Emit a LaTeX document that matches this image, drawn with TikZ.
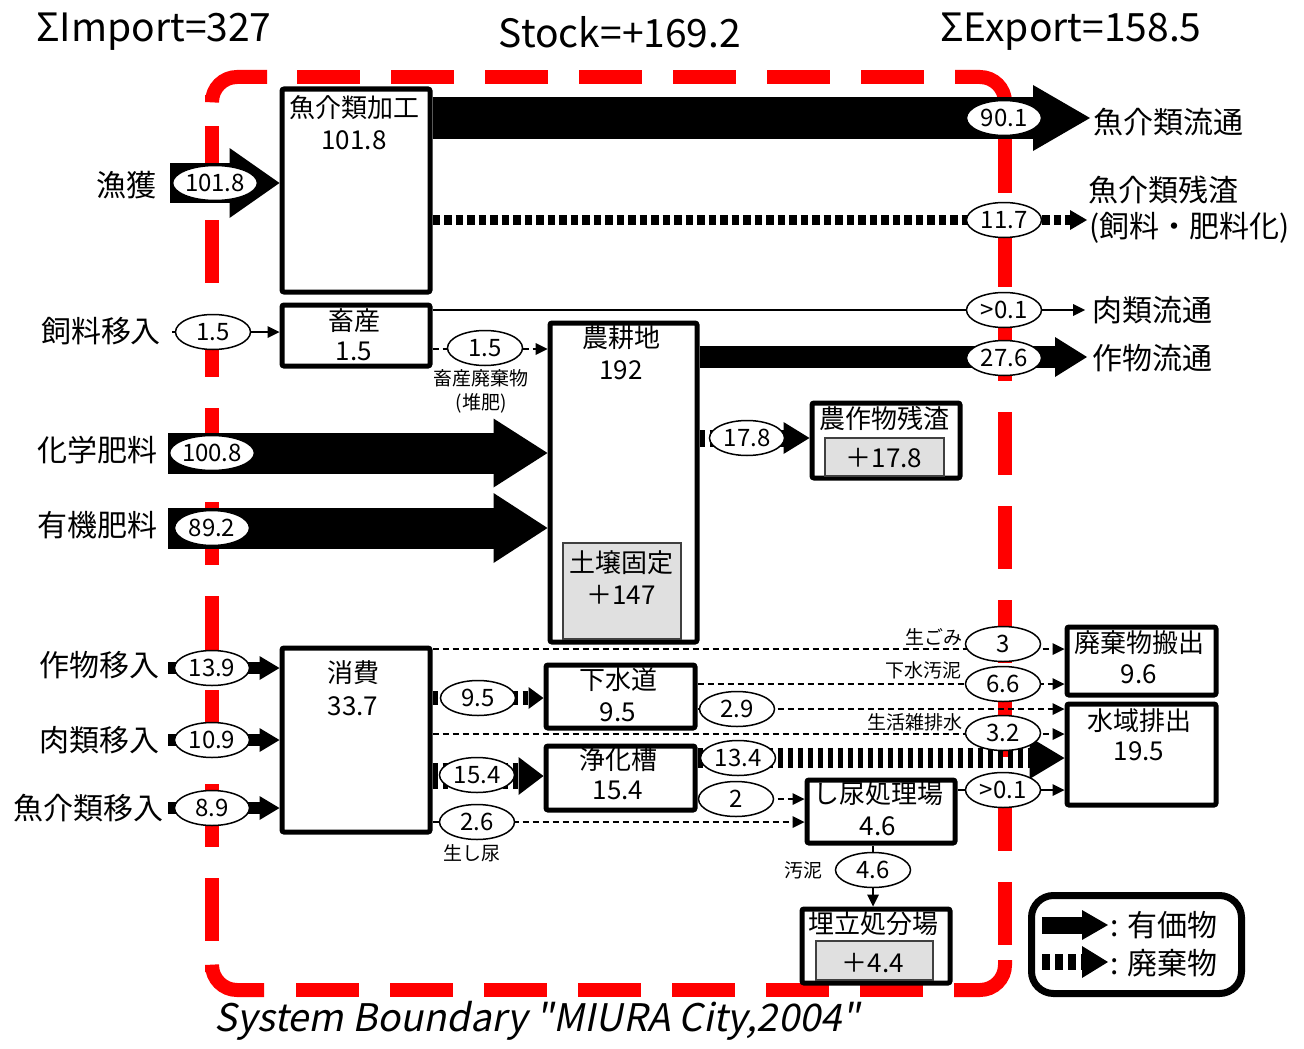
\documentclass[tikz,border=0pt]{standalone}
\usepackage{fontspec}
\setmainfont{Noto Sans CJK JP}
\newfontfamily\slantfont[FakeSlant=0.2]{Noto Sans CJK JP}
\usetikzlibrary{arrows.meta,shapes.geometric}
\definecolor{bred}{RGB}{255,0,0}
\definecolor{soilgray}{RGB}{224,224,224}
\tikzset{
 box/.style={draw, line width=5pt, fill=white, rounded corners=2pt, inner sep=0pt, anchor=north west},
 inbox/.style={draw=black!75, line width=1.5pt, fill=soilgray, inner sep=0pt, anchor=north west},
 ell/.style={ellipse, draw, line width=1.5pt, fill=white, minimum width=75pt, minimum height=35pt, inner sep=0pt, font=\fontsize{24}{24}\selectfont},
 big/.style={font=\fontsize{30}{30}\selectfont, inner sep=0pt},
 btxt/.style={font=\fontsize{26}{26}\selectfont, inner sep=0pt},
 smalltxt/.style={font=\fontsize{19}{19}\selectfont, inner sep=0pt},
 titletxt/.style={font=\fontsize{39}{39}\selectfont, inner sep=0pt},
 bound/.style={bred, line width=14pt},
 bounddash/.style={bred, line width=14pt, dash pattern=on 63pt off 31pt},
 fat/.style n args={3}{line width=#1, -{Triangle[length=#2, width=#3, line width=0pt]}},
 waste/.style n args={3}{line width=#1, dash pattern=on 5.5pt off 4.5pt, -{Triangle[length=#2, width=#3, line width=0pt]}},
 dotw/.style={line width=10pt, dash pattern=on 7.5pt off 4pt, -{Triangle[length=17pt, width=20pt, line width=0pt]}},
 thinarr/.style={line width=1.5pt, -{Triangle[length=12pt, width=12pt, line width=0pt]}},
 dasharr/.style={line width=1.5pt, dash pattern=on 6pt off 4pt, -{Triangle[length=12pt, width=12pt, line width=0pt]}},
}
\begin{document}
\begin{tikzpicture}[x=1pt,y=-1pt]
\useasboundingbox (0,0) rectangle (1304,1049);
\fill[white] (0,0) rectangle (1304,1049);

% system boundary: solid corners, dashed sides
\draw[bound, rounded corners=25pt] (212,95) -- (212,77) -- (267,77);
\draw[bound, rounded corners=25pt] (955,77) -- (1005,77) -- (1005,110);
\draw[bound, rounded corners=25pt] (1005,960) -- (1005,990) -- (954,990);
\draw[bound, rounded corners=25pt] (264,990) -- (212,990) -- (212,972);
\draw[bounddash] (212,126) -- (212,941);
\draw[bounddash] (297,77) -- (924,77);
\draw[bounddash] (296,990) -- (923,990);
\draw[bounddash] (1005,130) -- (1005,945);

% titles
\node[titletxt] (timp) at (154,32) {ΣImport=327};
\node[titletxt] (tsto) at (620,32) {Stock=+169.2};
\node[titletxt] (texp) at (1071,32) {ΣExport=158.5};
\node[inner sep=0pt, font=\slantfont\fontsize{38}{38}\selectfont] (tsys) at (537,1021) {System Boundary "MIURA City,2004"};

% boxes
\node[box, minimum width=148pt, minimum height=203pt] (kako) at (279.5,86.5) {};
\node[box, minimum width=148pt, minimum height=61pt] (chiku) at (279.5,302.5) {};
\node[box, minimum width=147pt, minimum height=319pt] (noko) at (547.5,320.5) {};
\node[inbox, minimum width=118pt, minimum height=96pt] (soil) at (562,542) {};
\node[box, minimum width=148pt, minimum height=75pt] (zansa) at (809.5,400.5) {};
\node[inbox, minimum width=119pt, minimum height=38pt] (zansain) at (824,437) {};
\node[box, minimum width=148pt, minimum height=184pt] (shohi) at (279.5,645.5) {};
\node[box, minimum width=149pt, minimum height=63pt] (gesui) at (543.5,662.5) {};
\node[box, minimum width=149pt, minimum height=64pt] (joka) at (543.5,743.5) {};
\node[box, minimum width=148pt, minimum height=63pt] (shinyo) at (804.5,777.5) {};
\node[box, minimum width=149pt, minimum height=68pt] (haiki) at (1064.5,624.5) {};
\node[box, minimum width=149pt, minimum height=101pt] (suiiki) at (1064.5,701.5) {};
\node[box, minimum width=148pt, minimum height=74pt] (ume) at (799.5,906.5) {};
\node[inbox, minimum width=117pt, minimum height=39pt] (umein) at (815,940) {};

% box texts
\node[btxt] (t1) at (354,108) {魚介類加工};
\node[btxt] (t2) at (354,140) {101.8};
\node[btxt] (t3) at (354,321) {畜産};
\node[btxt] (t4) at (354,351) {1.5};
\node[btxt] (t5) at (621,338) {農耕地};
\node[btxt] (t6) at (621,370) {192};
\node[btxt] (t7) at (621,563) {土壌固定};
\node[btxt] (t8) at (621,595) {＋147};
\node[btxt] (t9) at (884,418) {農作物残渣};
\node[btxt] (t10) at (884,458) {＋17.8};
\node[btxt] (t11) at (353,673) {消費};
\node[btxt] (t12) at (353,706) {33.7};
\node[btxt] (t13) at (618,680) {下水道};
\node[btxt] (t14) at (618,712) {9.5};
\node[btxt] (t15) at (618,760) {浄化槽};
\node[btxt] (t16) at (618,790) {15.4};
\node[btxt] (t17) at (878,794) {し尿処理場};
\node[btxt] (t18) at (878,826) {4.6};
\node[btxt] (t19) at (1139,643) {廃棄物搬出};
\node[btxt] (t20) at (1139,674) {9.6};
\node[btxt] (t21) at (1139,721) {水域排出};
\node[btxt] (t22) at (1139,751) {19.5};
\node[btxt] (t23) at (873,924) {埋立処分場};
\node[btxt] (t24) at (873,963) {＋4.4};

% outside labels
\node[big] (lgyo) at (126,185) {漁獲};
\node[big] (lfeed) at (101,331) {飼料移入};
\node[big] (lchem) at (97,450) {化学肥料};
\node[big] (lorg) at (97,525) {有機肥料};
\node[big] (lcrop) at (99,665) {作物移入};
\node[big] (lmeat) at (99,740) {肉類移入};
\node[big] (lfish) at (88,808) {魚介類移入};
\node[big, anchor=west] (rfish) at (1093,122) {魚介類流通};
\node[big, anchor=west] (rres1) at (1088,190) {魚介類残渣};
\node[big, anchor=west] (rres2) at (1089,228) {(飼料・肥料化)};
\node[big, anchor=west] (rmeat) at (1092,310) {肉類流通};
\node[big, anchor=west] (rcrop) at (1092,358) {作物流通};

% flow end coordinates
\coordinate (gyoS) at (170,183);
\coordinate (fishT) at (1090,118);
\coordinate (resT) at (1087,220);
\coordinate (meatT) at (1085,310);
\coordinate (cropT) at (1087,357);
\coordinate (feedS) at (172,332);
\coordinate (manY) at (485,349);
\coordinate (chemS) at (168,453);
\coordinate (orgS) at (168,528);
\coordinate (rcY) at (747,438);
\coordinate (imp1) at (168,668);
\coordinate (imp2) at (168,740);
\coordinate (imp3) at (168,808);
\coordinate (swY) at (478,698);
\coordinate (jkY) at (477,776);
\coordinate (gomiY) at (1003,649);
\coordinate (osY) at (1003,684);
\coordinate (g29Y) at (737,709);
\coordinate (zatY) at (1003,734);
\coordinate (j134Y) at (738,758);
\coordinate (j2Y) at (736,799);
\coordinate (n26Y) at (477,822);
\coordinate (s01Y) at (1003,790);
\coordinate (slX) at (873,870);

% flows
\draw[fat={40pt}{50pt}{70pt}] (gyoS) -- (gyoS -| kako.west);
\draw[fat={42pt}{57pt}{66pt}] (fishT -| kako.east) -- (fishT);
\draw[dotw] (resT -| kako.east) -- (resT);
\draw[thinarr] (meatT -| chiku.east) -- (meatT);
\draw[fat={22pt}{32pt}{40pt}] (cropT -| noko.east) -- (cropT);
\draw[thinarr] (feedS) -- (feedS -| chiku.west);
\draw[dasharr] (manY -| chiku.east) -- (manY -| noko.west);
\draw[fat={41pt}{54pt}{69pt}] (chemS) -- (chemS -| noko.west);
\draw[fat={41pt}{54pt}{70pt}] (orgS) -- (orgS -| noko.west);
\draw[waste={17pt}{26pt}{32pt}] (rcY -| noko.east) -- (rcY -| zansa.west);
\draw[fat={12pt}{20pt}{24pt}] (imp1) -- (imp1 -| shohi.west);
\draw[fat={12pt}{20pt}{24pt}] (imp2) -- (imp2 -| shohi.west);
\draw[fat={12pt}{20pt}{24pt}] (imp3) -- (imp3 -| shohi.west);
\draw[waste={14pt}{15pt}{22pt}] (swY -| shohi.east) -- (swY -| gesui.west);
\draw[waste={26pt}{25pt}{38pt}] (jkY -| shohi.east) -- (jkY -| joka.west);
\draw[dasharr] (gomiY -| shohi.east) -- (gomiY -| haiki.west);
\draw[dasharr] (osY -| gesui.east) -- (osY -| haiki.west);
\draw[dasharr] (g29Y -| gesui.east) -- (g29Y -| suiiki.west);
\draw[dasharr] (zatY -| shohi.east) -- (zatY -| suiiki.west);
\draw[waste={20pt}{35pt}{42pt}] (j134Y -| joka.east) -- (j134Y -| suiiki.west);
\draw[dasharr] (j2Y -| joka.east) -- (j2Y -| shinyo.west);
\draw[dasharr] (n26Y -| shohi.east) -- (n26Y -| shinyo.west);
\draw[thinarr] (s01Y -| shinyo.east) -- (s01Y -| suiiki.west);
\draw[thinarr] (slX |- shinyo.south) -- (slX |- ume.north);

% value ellipses
\node[ell] (e1) at (215,183) {101.8};
\node[ell] (e2) at (1004,118) {90.1};
\node[ell] (e3) at (1004,220) {11.7};
\node[ell] (e4) at (1004,310) {>0.1};
\node[ell] (e5) at (1004,358) {27.6};
\node[ell] (e6) at (213,332) {1.5};
\node[ell] (e7) at (485,348) {1.5};
\node[ell] (e8) at (212,453) {100.8};
\node[ell] (e9) at (212,528) {89.2};
\node[ell] (e10) at (747,438) {17.8};
\node[ell] (e11) at (212,668) {13.9};
\node[ell] (e12) at (212,740) {10.9};
\node[ell] (e13) at (212,808) {8.9};
\node[ell] (e14) at (478,698) {9.5};
\node[ell] (e15) at (477,775) {15.4};
\node[ell] (e16) at (477,822) {2.6};
\node[ell] (e17) at (1003,644) {3};
\node[ell] (e18) at (1003,684) {6.6};
\node[ell] (e19) at (737,709) {2.9};
\node[ell] (e20) at (1003,733) {3.2};
\node[ell] (e21) at (738,758) {13.4};
\node[ell] (e22) at (736,799) {2};
\node[ell] (e23) at (1003,790) {>0.1};
\node[ell] (e24) at (873,870) {4.6};

% small flow labels
\node[smalltxt] (s1) at (481,378) {畜産廃棄物};
\node[smalltxt] (s2) at (481,403) {(堆肥)};
\node[smalltxt, anchor=east] (s3) at (963,637) {生ごみ};
\node[smalltxt, anchor=east] (s4) at (962,670) {下水汚泥};
\node[smalltxt, anchor=east] (s5) at (963,722) {生活雑排水};
\node[smalltxt] (s6) at (472,853) {生し尿};
\node[smalltxt] (s7) at (803,870) {汚泥};

% legend
\draw[line width=7pt, rounded corners=22pt] (1031.5,895.5) rectangle (1241.5,993.5);
\coordinate (lg1a) at (1042,925);
\coordinate (lg1b) at (1108,925);
\coordinate (lg2a) at (1042,962);
\coordinate (lg2b) at (1108,962);
\draw[fat={17pt}{26pt}{30pt}] (lg1a) -- (lg1b);
\draw[line width=16pt, dash pattern=on 8pt off 5pt, -{Triangle[length=26pt, width=32pt, line width=0pt]}] (lg2a) -- (lg2b);
\node[big, anchor=west] (lgt1) at (1110,925) {: 有価物};
\node[big, anchor=west] (lgt2) at (1110,963) {: 廃棄物};
\end{tikzpicture}
\end{document}
